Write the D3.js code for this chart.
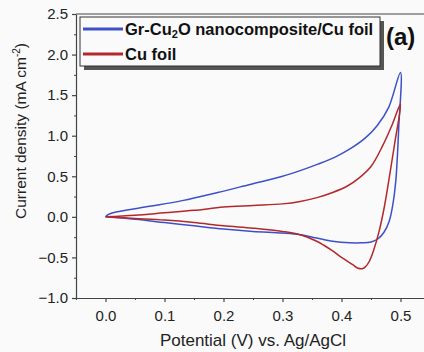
<!DOCTYPE html>
<html>
<head>
<meta charset="utf-8">
<script src="https://cdn.jsdelivr.net/npm/d3@7"></script>
<style>
  body { margin: 0; background: #fafafa; }
  svg { display: block; font-family: "Liberation Sans", Arial, sans-serif; }
</style>
</head>
<body>
<div id="chart"></div>
<script>
// CV loops: [potential V, current density mA cm-2]
const grCu2oLoop = [
  [0.0, 0.0], [0.005, 0.03], [0.025, 0.07], [0.075, 0.13], [0.13, 0.2], [0.19, 0.3],
  [0.245, 0.4], [0.3, 0.5], [0.33, 0.57], [0.36, 0.65], [0.39, 0.74], [0.415, 0.84],
  [0.44, 0.97], [0.46, 1.12], [0.48, 1.35], [0.5, 1.78],
  [0.497, 1.1], [0.492, 0.44], [0.487, 0.15], [0.481, -0.05], [0.472, -0.19],
  [0.462, -0.27], [0.45, -0.31], [0.435, -0.32], [0.414, -0.32], [0.385, -0.3],
  [0.358, -0.26], [0.33, -0.22], [0.3, -0.2], [0.25, -0.18], [0.2, -0.15],
  [0.15, -0.11], [0.1, -0.07], [0.05, -0.03], [0.0, 0.0]
];
const cuFoilLoop = [
  [0.0, 0.0], [0.05, 0.02], [0.1, 0.05], [0.15, 0.08], [0.2, 0.12], [0.25, 0.14],
  [0.3, 0.16], [0.33, 0.19], [0.36, 0.24], [0.385, 0.3], [0.41, 0.38], [0.43, 0.48],
  [0.45, 0.62], [0.47, 0.88], [0.485, 1.12], [0.5, 1.39],
  [0.49, 0.9], [0.48, 0.44], [0.472, 0.1], [0.464, -0.17], [0.455, -0.4],
  [0.447, -0.55], [0.44, -0.62], [0.435, -0.64], [0.427, -0.63], [0.419, -0.59],
  [0.4, -0.5], [0.385, -0.42], [0.37, -0.35], [0.358, -0.3], [0.33, -0.22],
  [0.3, -0.18], [0.25, -0.14], [0.2, -0.11], [0.15, -0.07], [0.1, -0.04],
  [0.05, -0.02], [0.0, 0.0]
];
const seriesNames = ['Gr-Cu2O nanocomposite/Cu foil', 'Cu foil'];
const seriesColors = ['#3d50c8', '#b2282c'];
const xTicks = [0.0, 0.1, 0.2, 0.3, 0.4, 0.5];
const yTicks = [-1.0, -0.5, 0.0, 0.5, 1.0, 1.5, 2.0, 2.5];

const width = 424;
const height = 352;
const plotLeft = 76;
const plotTop = 14;
const plotBottom = 298;

const x = d3.scaleLinear().domain([-0.05, 0.55]).range([plotLeft, 430]);
const y = d3.scaleLinear().domain([-1.0, 2.5]).range([plotBottom, plotTop]);

const svg = d3.select('#chart').append('svg')
  .attr('width', width)
  .attr('height', height);

svg.append('rect').attr('width', width).attr('height', height).attr('fill', '#fafafa');

/* curves */
const line = d3.line()
  .x(d => x(d[0]))
  .y(d => y(d[1]))
  .curve(d3.curveCatmullRom.alpha(0.5));

[grCu2oLoop, cuFoilLoop].forEach((loop, i) => {
  svg.append('path')
    .attr('d', line(loop))
    .attr('fill', 'none')
    .attr('stroke', seriesColors[i])
    .attr('stroke-width', 1.5);
});

/* frame */
svg.append('line')
  .attr('x1', plotLeft).attr('x2', width)
  .attr('y1', plotTop).attr('y2', plotTop)
  .attr('stroke', '#444').attr('stroke-width', 1.2);

/* axes */
const xAxis = svg.append('g')
  .attr('transform', `translate(0,${plotBottom})`)
  .call(d3.axisBottom(x).tickValues(xTicks).tickFormat(d3.format('.1f')).tickSize(4).tickSizeOuter(0))
  .call(g => g.select('.domain').attr('stroke', '#444').attr('stroke-width', 1.2));
xAxis.selectAll('.tick line').attr('stroke', '#444').attr('stroke-width', 1.2);
xAxis.selectAll('text').attr('fill', '#222').style('font-size', '15px').attr('y', 12);

svg.append('g')
  .attr('transform', `translate(0,${plotBottom})`)
  .call(d3.axisBottom(x).tickValues(d3.range(-0.05, 0.56, 0.1)).tickFormat('').tickSize(2).tickSizeOuter(0))
  .call(g => g.select('.domain').remove())
  .selectAll('.tick line').attr('stroke', '#444');

const yAxis = svg.append('g')
  .attr('transform', `translate(${plotLeft},0)`)
  .call(d3.axisLeft(y).tickValues(yTicks).tickFormat(d3.format('.1f')).tickSize(4).tickSizeOuter(0))
  .call(g => g.select('.domain').attr('stroke', '#444').attr('stroke-width', 1.2));
yAxis.selectAll('.tick line').attr('stroke', '#444').attr('stroke-width', 1.2);
yAxis.selectAll('text').attr('fill', '#222').style('font-size', '15px').attr('x', -8);

svg.append('g')
  .attr('transform', `translate(${plotLeft},0)`)
  .call(d3.axisLeft(y).tickValues(d3.range(-0.75, 2.5, 0.5)).tickFormat('').tickSize(2).tickSizeOuter(0))
  .call(g => g.select('.domain').remove())
  .selectAll('.tick line').attr('stroke', '#444');

/* axis titles */
svg.append('text')
  .attr('x', 253).attr('y', 346)
  .attr('text-anchor', 'middle')
  .style('font-size', '17px').attr('fill', '#222')
  .text('Potential (V) vs. Ag/AgCl');

const yTitle = svg.append('text')
  .attr('transform', 'translate(26,131) rotate(-90)')
  .attr('text-anchor', 'middle')
  .style('font-size', '15.5px').attr('fill', '#222');
yTitle.append('tspan').text('Current density (mA cm');
yTitle.append('tspan').attr('dy', -6).style('font-size', '10px').text('-2');
yTitle.append('tspan').attr('dy', 6).text(')');

/* legend */
const lg = svg.append('g');
lg.append('rect').attr('x', 84).attr('y', 21).attr('width', 300).attr('height', 49).attr('fill', '#555');
lg.append('rect').attr('x', 80).attr('y', 17).attr('width', 300).attr('height', 49)
  .attr('fill', '#fafafa').attr('stroke', '#333').attr('stroke-width', 1);

seriesNames.forEach((name, i) => {
  const ly = 29 + i * 25;
  lg.append('line')
    .attr('x1', 83).attr('x2', 123).attr('y1', ly).attr('y2', ly)
    .attr('stroke', seriesColors[i]).attr('stroke-width', 3);
  const t = lg.append('text')
    .attr('x', 125).attr('y', ly + 6)
    .style('font-size', '16.5px').style('font-weight', 'bold').attr('fill', '#111');
  if (i === 0) {
    t.append('tspan').text('Gr-Cu');
    t.append('tspan').attr('dy', 3).style('font-size', '11px').text('2');
    t.append('tspan').attr('dy', -3).text('O nanocomposite/Cu foil');
  } else {
    t.text(name);
  }
});

svg.append('text')
  .attr('x', 386).attr('y', 45)
  .style('font-size', '24px').style('font-weight', 'bold').attr('fill', '#111')
  .text('(a)');
</script>
</body>
</html>
